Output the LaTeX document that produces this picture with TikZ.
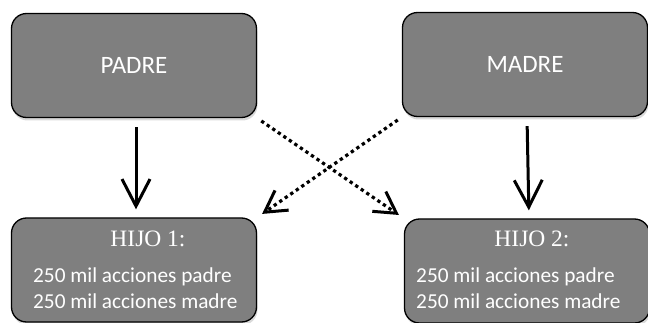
\documentclass[tikz,border=0pt]{standalone}
\usepackage{fontspec}
\setmainfont{Carlito}
\newfontfamily\headfont{Liberation Serif}
\usetikzlibrary{arrows.meta,shadows}

\begin{document}
\begin{tikzpicture}[
     x=1pt, y=-1pt,
     % define styles
     box/.style={
         draw=black,
         line width=1.3pt,
         fill=boxgray,
         rounded corners=15pt,
         minimum width=245pt,
         minimum height=104pt,
         drop shadow={opacity=0.3, shadow xshift=1pt, shadow yshift=-3pt},
         text=white,
         font=\fontsize{25}{29}\selectfont
     },
     head/.style={
         text=white,
         inner sep=0pt,
         anchor=base,
         font=\headfont\fontsize{23.5}{27}\selectfont
     },
     lines/.style={
         text=white,
         inner sep=0pt,
         anchor=base west,
         align=left,
         font=\fontsize{21.3}{25}\selectfont
     },
     down/.style={
         ->, line width=3pt,
         shorten <=9pt, shorten >=8pt
     },
     cross/.style={
         ->, line width=3.2pt,
         dash pattern=on 3.3pt off 3.4pt,
         shorten <=5pt, shorten >=6pt,
         >={Straight Barb[length=21pt, width=24pt, line width=3pt]}
     },
     >={Straight Barb[length=27pt, width=28pt]}
]
\definecolor{boxgray}{HTML}{7F7F7F}
\useasboundingbox (0,0) rectangle (648,323);

% parents on top
\node[box] (padre) at (134,65.5) {PADRE};
\node[box] (madre) at (525,64.5) {MADRE};

% children below
\node[box] (hijo1) at (134,270) {};
\node[box] (hijo2) at (527,271) {};

% texts inside the children
\node[head] (h1) at (148,247) {HIJO 1:};
\node[lines] (l1) at (33,308) {250 mil acciones padre\\250 mil acciones madre};
\node[head] (h2) at (532,247) {HIJO 2:};
\node[lines] (l2) at (416,308) {250 mil acciones padre\\250 mil acciones madre};

% straight lines from each parent to its child
\foreach \p/\h in {padre/hijo1, madre/hijo2}
    \draw[down] ([xshift=2pt]\p.south) -- ([xshift=2pt]\h.north);

% dotted lines across
\draw[cross] (padre.south east) -- (hijo2.north west);
\draw[cross] (madre.south west) -- (hijo1.north east);
\end{tikzpicture}
\end{document}
